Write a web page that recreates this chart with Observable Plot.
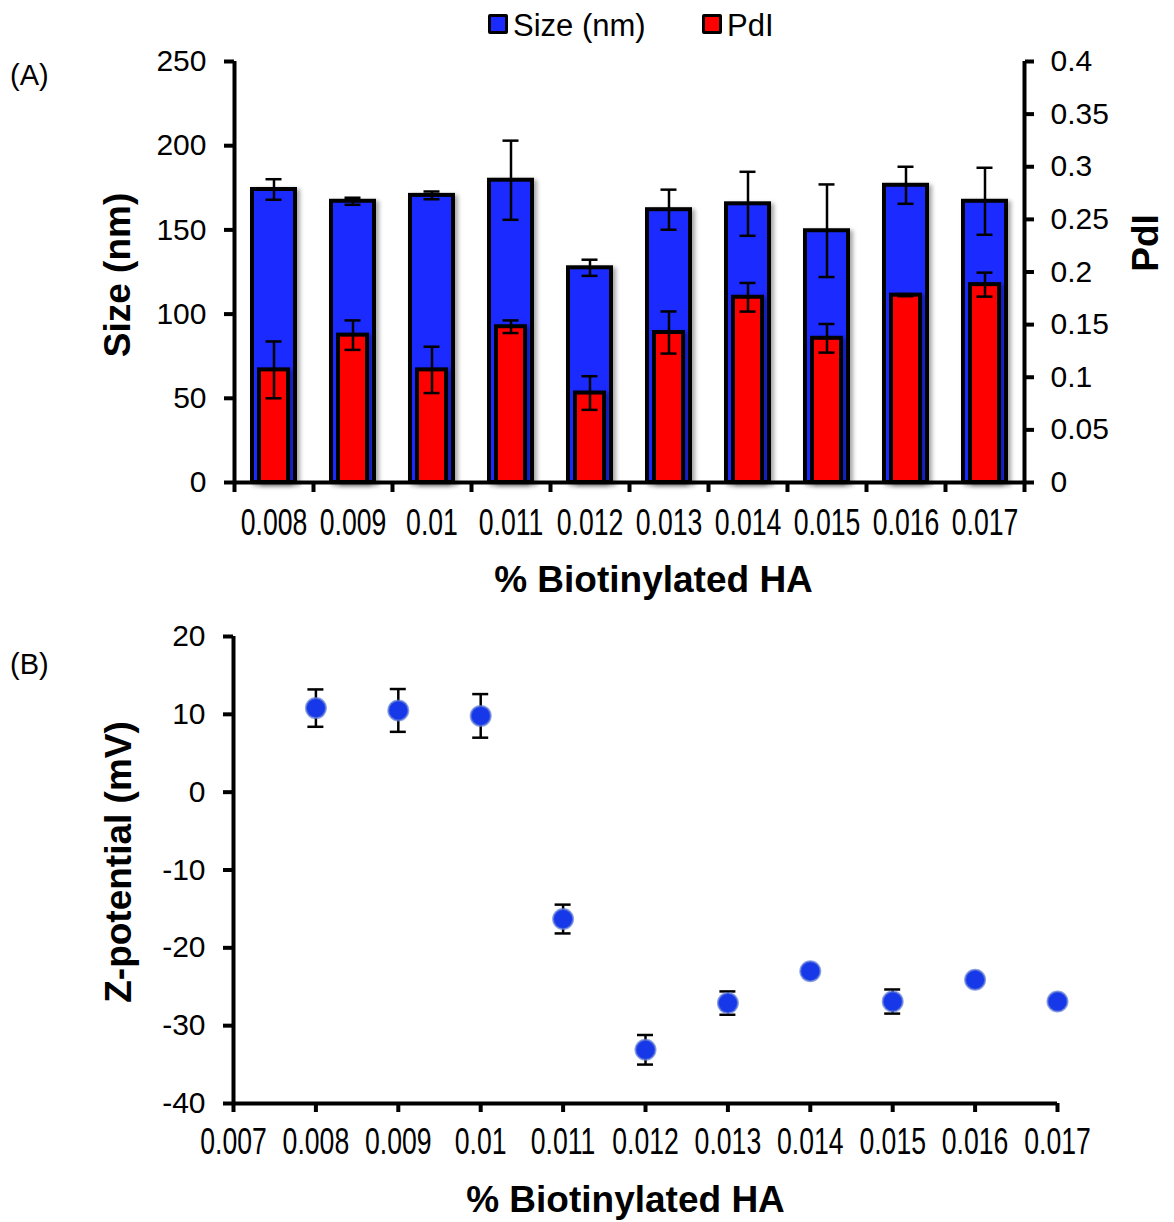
<!DOCTYPE html>
<html>
<head>
<meta charset="utf-8">
<script src="https://cdn.jsdelivr.net/npm/d3@7"></script>
<script src="https://cdn.jsdelivr.net/npm/@observablehq/plot@0.6"></script>
<style>
  body { margin: 0; background: #fff; font-family: "Liberation Sans", Arial, sans-serif; }
  #wrap { position: relative; width: 1174px; height: 1222px; overflow: hidden; }
  .panel { position: absolute; left: 0; }
  .sw { position: absolute; width: 14px; height: 14px; border: 3px solid #000; border-radius: 2px; }
  .lt { position: absolute; font-size: 31px; line-height: 31px; color: #000; }
  .plab { position: absolute; font-size: 29px; line-height: 29px; color: #000; }
</style>
</head>
<body>
<div id="wrap">
  <div class="sw" style="left:488px;top:14px;background:#1b2bff;"></div>
  <div class="lt" style="left:513px;top:10px;">Size (nm)</div>
  <div class="sw" style="left:702px;top:14px;background:#ff0000;"></div>
  <div class="lt" style="left:727px;top:10px;">PdI</div>
  <div class="plab" style="left:10px;top:61px;">(A)</div>
  <div class="plab" style="left:10px;top:650px;">(B)</div>
  <div id="top" class="panel" style="top:0px;"></div>
  <div id="bot" class="panel" style="top:612px;"></div>
</div>
<script>
// ---------- Data: panel (A) ----------
const pct = [0.008, 0.009, 0.010, 0.011, 0.012, 0.013, 0.014, 0.015, 0.016, 0.017];
const pctLabels = ["0.008", "0.009", "0.01", "0.011", "0.012", "0.013", "0.014", "0.015", "0.016", "0.017"];
const sizeNm = [174, 167, 170.5, 179.5, 127.5, 162, 165.5, 149.5, 176.5, 167];
const sizeErr = [6.1, 2.1, 2.3, 23.5, 4.8, 11.9, 19, 27.5, 11, 19.9];
const pdi = [0.107, 0.140, 0.107, 0.148, 0.085, 0.1425, 0.176, 0.137, 0.178, 0.188];
const pdiErr = [0.027, 0.014, 0.022, 0.006, 0.016, 0.020, 0.0136, 0.0136, 0.001, 0.0114];
const sizeTicks = [0, 50, 100, 150, 200, 250];
const pdiTicks = [0, 0.05, 0.1, 0.15, 0.2, 0.25, 0.3, 0.35, 0.4];

// ---------- Data: panel (B) ----------
const zPct = [0.008, 0.009, 0.010, 0.011, 0.012, 0.013, 0.014, 0.015, 0.016, 0.017];
const zeta = [10.8, 10.5, 9.8, -16.3, -33.1, -27.1, -23.0, -26.9, -24.1, -26.9];
const zetaErr = [2.4, 2.75, 2.8, 1.85, 1.9, 1.5, 0.4, 1.55, 0.4, 0.4];
const zYTicks = [-40, -30, -20, -10, 0, 10, 20];
const zXTicks = [0.007, 0.008, 0.009, 0.010, 0.011, 0.012, 0.013, 0.014, 0.015, 0.016, 0.017];
const zXLabels = ["0.007", "0.008", "0.009", "0.01", "0.011", "0.012", "0.013", "0.014", "0.015", "0.016", "0.017"];

const FONT = '"Liberation Sans", Arial, sans-serif';
const BLUE = "#1b2bff", RED = "#ff0000", DOT = "#1638e8";
const K = 250 / 0.4; // PdI -> size axis factor (secondary axis)

// derived tables
const half = 0.0005;
const topData = pct.map((p, i) => ({
  p, label: pctLabels[i], size: sizeNm[i], se: sizeErr[i], pdi: pdi[i] * K, pe: pdiErr[i] * K
}));
const bounds = pct.map(p => p - half).concat([pct[pct.length - 1] + half]);
const xDom = [bounds[0], bounds[bounds.length - 1]];

const topPlot = Plot.plot({
  width: 1174, height: 610,
  marginLeft: 234, marginRight: 150, marginTop: 61, marginBottom: 128,
  style: { fontFamily: FONT, color: "#000", background: "transparent", overflow: "visible" },
  x: { type: "linear", domain: xDom },
  y: { domain: [0, 250] },
  marks: [
    Plot.rect(topData, { x1: d => d.p - half, x2: d => d.p + half, y1: 0, y2: "size",
      fill: BLUE, stroke: "#000", strokeWidth: 4, insetLeft: 18, insetRight: 18, ariaLabel: () => "bar-shadow" }),
    Plot.rect(topData, { x1: d => d.p - half, x2: d => d.p + half, y1: 0, y2: "pdi",
      fill: RED, stroke: "#000", strokeWidth: 4, insetLeft: 25, insetRight: 25, ariaLabel: () => "bar-shadow" }),
    // error bars size
    Plot.ruleX(topData, { x: "p", y1: d => d.size - d.se, y2: d => d.size + d.se, stroke: "#000", strokeWidth: 2.5 }),
    Plot.ruleY(topData, { y: d => d.size + d.se, x1: "p", x2: "p", insetLeft: -8, insetRight: -8, stroke: "#000", strokeWidth: 2.5 }),
    Plot.ruleY(topData, { y: d => d.size - d.se, x1: "p", x2: "p", insetLeft: -8, insetRight: -8, stroke: "#000", strokeWidth: 2.5 }),
    // error bars PdI
    Plot.ruleX(topData, { x: "p", y1: d => d.pdi - d.pe, y2: d => d.pdi + d.pe, stroke: "#000", strokeWidth: 2.5 }),
    Plot.ruleY(topData, { y: d => d.pdi + d.pe, x1: "p", x2: "p", insetLeft: -8, insetRight: -8, stroke: "#000", strokeWidth: 2.5 }),
    Plot.ruleY(topData, { y: d => d.pdi - d.pe, x1: "p", x2: "p", insetLeft: -8, insetRight: -8, stroke: "#000", strokeWidth: 2.5 }),
    // axes lines
    Plot.ruleX([xDom[0]], { y1: 0, y2: 250, stroke: "#000", strokeWidth: 4 }),
    Plot.ruleX([xDom[1]], { y1: 0, y2: 250, stroke: "#000", strokeWidth: 4 }),
    Plot.ruleY([0], { x1: xDom[0], x2: xDom[1], stroke: "#000", strokeWidth: 4 }),
    // left axis
    Plot.axisY(sizeTicks, { anchor: "left", tickSize: 10, tickPadding: 18, strokeWidth: 4, fontSize: 30, label: null, tickFormat: d => String(d) }),
    // right axis (PdI)
    Plot.axisY(pdiTicks.map(v => v * K), { anchor: "right", tickSize: 9, tickPadding: 17, strokeWidth: 4, fontSize: 30, label: null,
      tickFormat: d => String(Math.round(d / K * 100) / 100) }),
    // x ticks at band edges
    Plot.axisX(bounds, { anchor: "bottom", tickSize: 10, strokeWidth: 4, tickFormat: () => "", label: null }),
    // x tick labels
    Plot.text(pctLabels, { x: (d, i) => pct[i], text: d => d, frameAnchor: "bottom", lineAnchor: "middle", dy: 41, fontSize: 37, ariaLabel: () => "xlab-narrow" }),
    // axis titles
    Plot.text(["% Biotinylated HA"], { frameAnchor: "bottom", lineAnchor: "middle", textAnchor: "middle", dy: 98, dx: 24, fontSize: 37, fontWeight: "bold" }),
    Plot.text(["Size (nm)"], { frameAnchor: "left", lineAnchor: "middle", textAnchor: "middle", rotate: -90, dx: -116, dy: 3, fontSize: 37, fontWeight: "bold" }),
    Plot.text(["PdI"], { frameAnchor: "right", lineAnchor: "middle", textAnchor: "middle", rotate: -90, dx: 122, dy: -29, fontSize: 37, fontWeight: "bold" })
  ]
});

const botData = zPct.map((p, i) => ({ p, z: zeta[i], e: zetaErr[i] }));
const botPlot = Plot.plot({
  width: 1174, height: 610,
  marginLeft: 233, marginRight: 117, marginTop: 24, marginBottom: 119,
  style: { fontFamily: FONT, color: "#000", background: "transparent", overflow: "visible" },
  x: { type: "linear", domain: [0.007, 0.017] },
  y: { domain: [-40, 20] },
  marks: [
    Plot.ruleX([0.007], { y1: -40, y2: 20, stroke: "#000", strokeWidth: 4 }),
    Plot.ruleY([-40], { x1: 0.007, x2: 0.017, stroke: "#000", strokeWidth: 4 }),
    Plot.axisY(zYTicks, { anchor: "left", tickSize: 10, tickPadding: 18, strokeWidth: 4, fontSize: 30, label: null, tickFormat: d => String(d) }),
    Plot.axisX(zXTicks, { anchor: "bottom", tickSize: 9, strokeWidth: 4, tickFormat: () => "", label: null }),
    Plot.text(zXLabels, { x: (d, i) => zXTicks[i], text: d => d, frameAnchor: "bottom", lineAnchor: "middle", dy: 39, fontSize: 37, ariaLabel: () => "xlab-narrow" }),
    Plot.ruleX(botData, { x: "p", y1: d => d.z - d.e, y2: d => d.z + d.e, stroke: "#000", strokeWidth: 2.5 }),
    Plot.ruleY(botData, { y: d => d.z + d.e, x1: "p", x2: "p", insetLeft: -8, insetRight: -8, stroke: "#000", strokeWidth: 2.5 }),
    Plot.ruleY(botData, { y: d => d.z - d.e, x1: "p", x2: "p", insetLeft: -8, insetRight: -8, stroke: "#000", strokeWidth: 2.5 }),
    Plot.dot(botData, { x: "p", y: "z", r: 10, fill: DOT, stroke: "#5f7bd6", strokeOpacity: 0.7, strokeWidth: 2 }),
    Plot.text(["% Biotinylated HA"], { frameAnchor: "bottom", lineAnchor: "middle", textAnchor: "middle", dy: 97, dx: -20, fontSize: 37, fontWeight: "bold" }),
    Plot.text(["Z-potential (mV)"], { frameAnchor: "left", lineAnchor: "middle", textAnchor: "middle", rotate: -90, dx: -114, dy: -8, fontSize: 37, fontWeight: "bold" })
  ]
});

function narrow(svg, k) {
  const set = new Set(pctLabels.concat(zXLabels));
  let texts = Array.from(svg.querySelectorAll('text[aria-label="xlab-narrow"]'));
  if (!texts.length) {
    texts = Array.from(svg.querySelectorAll('g[aria-label="text"] text'))
      .filter(t => set.has(t.textContent) && t.closest("g").getAttribute("font-weight") !== "bold");
  }
  texts.forEach(t => {
    let tr = t.getAttribute("transform");
    if (!tr) {
      const x = t.getAttribute("x") || 0, y = t.getAttribute("y") || 0;
      t.removeAttribute("x"); t.removeAttribute("y");
      tr = `translate(${x},${y})`;
    }
    t.setAttribute("transform", tr + ` scale(${k},1)`);
  });
}
narrow(topPlot, 0.72);
narrow(botPlot, 0.72);
topPlot.querySelectorAll('[aria-label="bar-shadow"]').forEach(el => {
  el.style.filter = "drop-shadow(3px 2px 2px rgba(0,0,0,0.35))";
});

document.getElementById("top").appendChild(topPlot);
document.getElementById("bot").appendChild(botPlot);
</script>
</body>
</html>
